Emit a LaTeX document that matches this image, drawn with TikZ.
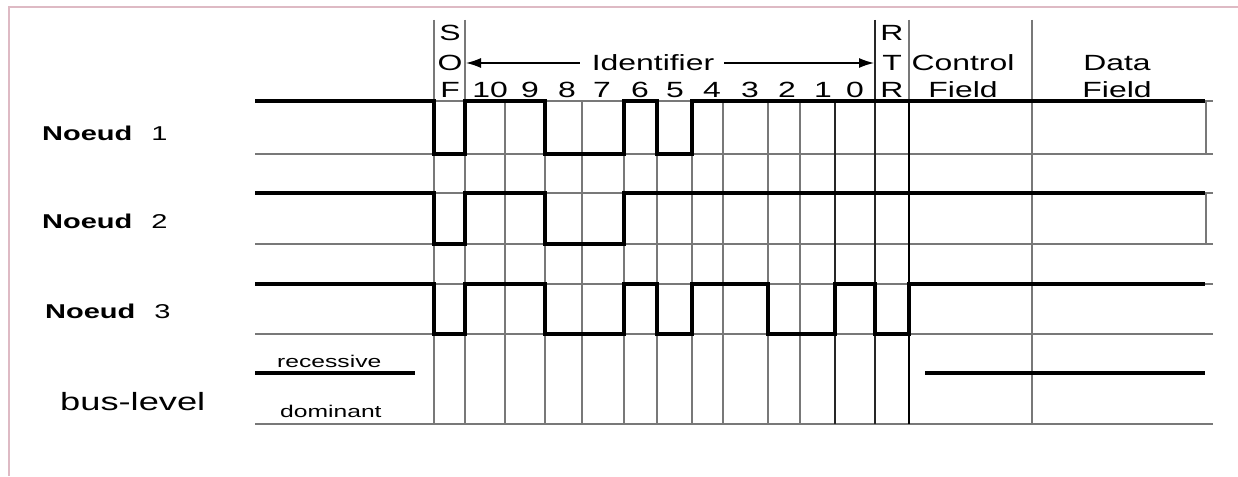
\documentclass[tikz,border=0pt]{standalone}
\usepackage{fontspec}
\setmainfont{Liberation Sans}
\usepackage{graphicx}
\usetikzlibrary{arrows.meta}
\newcommand{\sx}[1]{\scalebox{1.45}[1]{#1}}
\definecolor{framec}{RGB}{222,186,196}
\definecolor{gridc}{RGB}{120,120,120}
\begin{document}
\begin{tikzpicture}[x=1pt,y=-1pt,
  trace/.style={line width=4.3pt, black},
  gridh/.style={line width=1.8pt, gridc},
  gridv/.style={line width=1.5pt, gridc},
  hdr/.style={font=\fontsize{22}{26}\selectfont, inner sep=0pt, anchor=base},
  noeud/.style={font=\fontsize{20}{24}\selectfont, inner sep=0pt, anchor=base west},
  small/.style={font=\fontsize{17}{20}\selectfont, inner sep=0pt, anchor=base west},
  arr/.style={line width=1.3pt, -{Latex[length=15pt,width=10pt]}}]
\useasboundingbox (0,0) rectangle (1238,476);
\fill[white] (0,0) rectangle (1238,476);
\draw[framec, line width=2pt] (9,476) -- (9,7) -- (1238,7);

% horizontal grid lines
\foreach \y in {101,154,193,244,284,334,424}
  \draw[gridh] (255,\y) -- (1213,\y);
\draw[gridv] (1206,101) -- (1206,154);
\draw[gridv] (1206,193) -- (1206,244);

% vertical grid lines
\foreach \x in {434,465,1032}
  \draw[gridv] (\x,20) -- (\x,424);
\foreach \x in {505,545,582,624,657,692,723,768,800}
  \draw[gridv] (\x,101) -- (\x,424);
\draw[line width=1.5pt, black!85] (835,101) -- (835,424);
\draw[line width=1.5pt, black!85] (875,20) -- (875,424);
\draw[gridv] (909,20) -- (909,101);
\draw[line width=2.5pt, black] (909,101) -- (909,424);

% Noeud 1
\draw[trace] (255,101) -- (434,101) -- (434,154) -- (465,154) -- (465,101)
  -- (545,101) -- (545,154) -- (624,154) -- (624,101) -- (657,101)
  -- (657,154) -- (692,154) -- (692,101) -- (1205,101);
% Noeud 2
\draw[trace] (255,193) -- (434,193) -- (434,244) -- (465,244) -- (465,193)
  -- (545,193) -- (545,244) -- (624,244) -- (624,193) -- (1205,193);
% Noeud 3
\draw[trace] (255,284) -- (434,284) -- (434,334) -- (465,334) -- (465,284)
  -- (545,284) -- (545,334) -- (624,334) -- (624,284) -- (657,284)
  -- (657,334) -- (692,334) -- (692,284) -- (768,284) -- (768,334)
  -- (835,334) -- (835,284) -- (875,284) -- (875,334) -- (909,334)
  -- (909,284) -- (1205,284);
% bus level
\draw[trace] (255,373) -- (415,373);
\draw[trace] (925,373) -- (1205,373);

% header
\node[hdr] (sofS) at (450,41) {\sx{S}};
\node[hdr] (sofO) at (450,71) {\sx{O}};
\node[hdr] (sofF) at (450,98) {\sx{F}};
\node[hdr] (rtrR) at (892,41) {\sx{R}};
\node[hdr] (rtrT) at (892,71) {\sx{T}};
\node[hdr] (rtrR2) at (892,98) {\sx{R}};
\node[hdr] (ident) at (653,71) {\sx{Identifier}};
\coordinate (idl) at (466,63);
\coordinate (idr) at (874,63);
\coordinate (al) at ([xshift=-12pt]ident.west);
\coordinate (ar) at ([xshift=10pt]ident.east);
\draw[arr] (al |- idl) -- (idl);
\draw[arr] (ar |- idr) -- (idr);
\foreach \x/\t [count=\i] in {490/10,530/9,567/8,602/7,640/6,675/5,712/4,750/3,787/2,823/1,855/0}
  \node[hdr] (bit\i) at (\x,98) {\sx{\t}};
\node[hdr] (ctrl1) at (963,71) {\sx{Control}};
\node[hdr] (ctrl2) at (963,98) {\sx{Field}};
\node[hdr] (data1) at (1117,71) {\sx{Data}};
\node[hdr] (data2) at (1117,98) {\sx{Field}};

% left labels
\node[noeud] (n1) at (42,140) {\sx{\textbf{Noeud}\hspace{13pt}1}};
\node[noeud] (n2) at (42,228) {\sx{\textbf{Noeud}\hspace{13pt}2}};
\node[noeud] (n3) at (45,318) {\sx{\textbf{Noeud}\hspace{13pt}3}};
\node[font=\fontsize{25}{30}\selectfont, inner sep=0pt, anchor=base west] (bus) at (60,410) {\sx{bus-level}};
\node[small] (rec) at (277,367) {\sx{recessive}};
\node[small] (dom) at (280,417) {\sx{dominant}};
\end{tikzpicture}
\end{document}
